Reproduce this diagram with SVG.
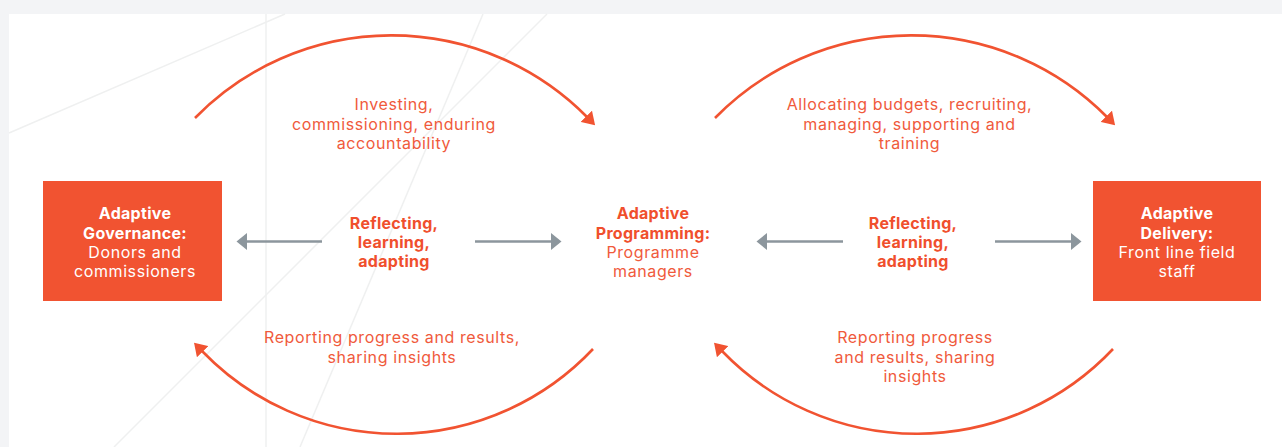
<svg xmlns="http://www.w3.org/2000/svg" width="1282" height="447" viewBox="0 0 1282 447">
<style>
  .lbl { font-family: Inter, "Open Sans", "Liberation Sans", sans-serif; font-size: 16px; fill: #f05a3c; text-anchor: middle; letter-spacing: 0.6px; }
  .b { font-weight: 700; fill: #f04f2d; letter-spacing: 0.3px; }
  .w { fill: #ffffff; }
  .arc { fill: none; stroke: #f15331; stroke-width: 2.6; }
  .ga { fill: none; stroke: #8c969d; stroke-width: 2.6; }
  .bg { stroke: #eff0f0; stroke-width: 1.5; fill: none; }
  .box { fill: #f15331; }
</style>
<defs>
  <marker id="oa" markerUnits="userSpaceOnUse" markerWidth="13" markerHeight="16" refX="1" refY="8" orient="auto">
    <path d="M0,0 L12.5,8 L0,16 z" fill="#f15331"/>
  </marker>
  <marker id="ga" markerUnits="userSpaceOnUse" markerWidth="11" markerHeight="17" refX="0" refY="8.5" orient="auto">
    <path d="M0,0 L10.5,8.5 L0,17 z" fill="#8c969d"/>
  </marker>
</defs>
<rect x="0" y="0" width="1282" height="447" fill="#f3f4f6"/>
<rect x="9" y="14" width="1273" height="433" fill="#ffffff"/>
<g id="background-lines">
  <line class="bg" x1="266" y1="14" x2="266" y2="447"/>
  <line class="bg" x1="9" y1="133" x2="285" y2="14"/>
  <line class="bg" x1="483" y1="14" x2="300" y2="447"/>
  <line class="bg" x1="547" y1="14" x2="114" y2="447"/>
</g>
<g id="connectors">
  <path class="arc" d="M195,118 A275,275 0 0 1 587,117" marker-end="url(#oa)"/>
  <path class="arc" d="M593,349 A270,270 0 0 1 202,351" marker-end="url(#oa)"/>
  <path class="arc" d="M715,118 A275,275 0 0 1 1107,117" marker-end="url(#oa)"/>
  <path class="arc" d="M1113,349 A270,270 0 0 1 722,351" marker-end="url(#oa)"/>
  <line class="ga" x1="322" y1="241.5" x2="247" y2="241.5" marker-end="url(#ga)"/>
  <line class="ga" x1="475" y1="241.5" x2="551" y2="241.5" marker-end="url(#ga)"/>
  <line class="ga" x1="843" y1="241.5" x2="767" y2="241.5" marker-end="url(#ga)"/>
  <line class="ga" x1="995" y1="241.5" x2="1071" y2="241.5" marker-end="url(#ga)"/>
</g>
<g id="governance">
  <rect class="box" x="43" y="181" width="179" height="120"/>
  <text class="lbl b w" x="135" y="219">Adaptive</text>
  <text class="lbl b w" x="135" y="238.5">Governance:</text>
  <text class="lbl w" x="135" y="257.5">Donors and</text>
  <text class="lbl w" x="135" y="276.5">commissioners</text>
</g>
<g id="programming">
  <text class="lbl b" x="653" y="219">Adaptive</text>
  <text class="lbl b" x="653" y="238.5">Programming:</text>
  <text class="lbl" x="653" y="257.5">Programme</text>
  <text class="lbl" x="653" y="276.5">managers</text>
</g>
<g id="delivery">
  <rect class="box" x="1093" y="181" width="168" height="120"/>
  <text class="lbl b w" x="1177" y="219">Adaptive</text>
  <text class="lbl b w" x="1177" y="238.5">Delivery:</text>
  <text class="lbl w" x="1177" y="257.5">Front line field</text>
  <text class="lbl w" x="1177" y="276.5">staff</text>
</g>
<g id="label-investing">
  <text class="lbl" x="394" y="110">Investing,</text>
  <text class="lbl" x="394" y="129.5">commissioning, enduring</text>
  <text class="lbl" x="394" y="149">accountability</text>
</g>
<g id="label-allocating">
  <text class="lbl" x="909.5" y="110">Allocating budgets, recruiting,</text>
  <text class="lbl" x="909.5" y="129.5">managing, supporting and</text>
  <text class="lbl" x="909.5" y="149">training</text>
</g>
<g id="label-reflecting-left">
  <text class="lbl b" x="394" y="228.5">Reflecting,</text>
  <text class="lbl b" x="394" y="248">learning,</text>
  <text class="lbl b" x="394" y="267">adapting</text>
</g>
<g id="label-reflecting-right">
  <text class="lbl b" x="913" y="228.5">Reflecting,</text>
  <text class="lbl b" x="913" y="248">learning,</text>
  <text class="lbl b" x="913" y="267">adapting</text>
</g>
<g id="label-reporting-left">
  <text class="lbl" x="392" y="343">Reporting progress and results,</text>
  <text class="lbl" x="392" y="362.5">sharing insights</text>
</g>
<g id="label-reporting-right">
  <text class="lbl" x="915" y="343">Reporting progress</text>
  <text class="lbl" x="915" y="362.5">and results, sharing</text>
  <text class="lbl" x="915" y="382">insights</text>
</g>
</svg>
